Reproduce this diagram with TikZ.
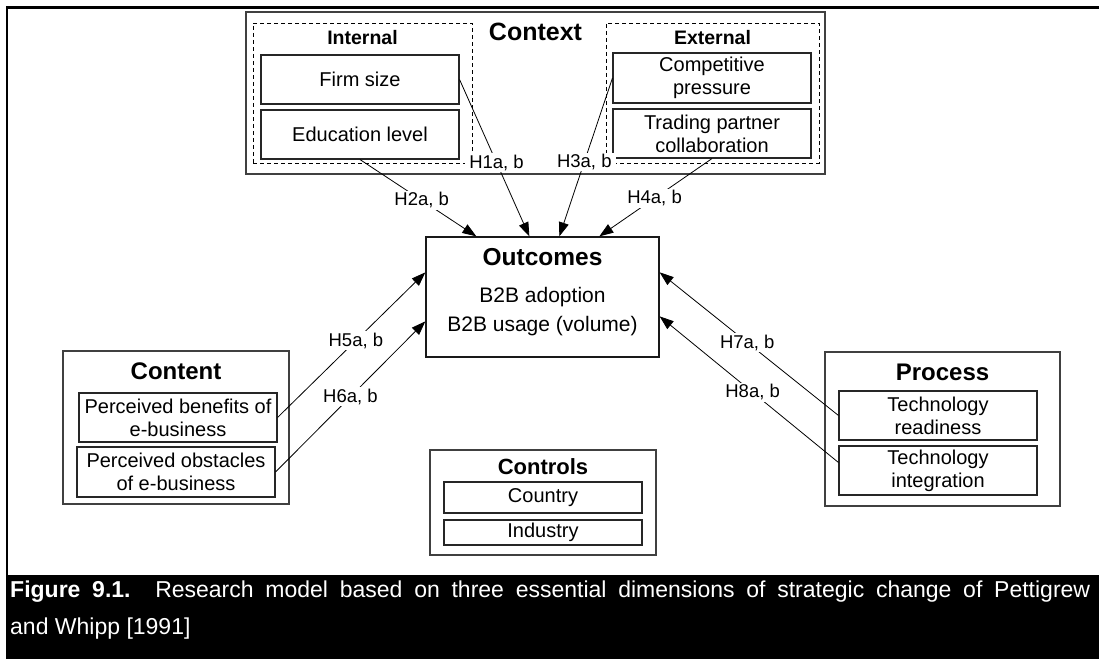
\documentclass[tikz,border=0pt]{standalone}
\usepackage{fontspec}
\setmainfont{Liberation Sans}
\usetikzlibrary{arrows.meta}

\tikzset{
  grp/.style={draw=black!75, line width=1.4pt, fill=white, inner sep=0pt},
  dashbox/.style={draw=black, line width=0.9pt, dash pattern=on 4pt off 3pt, inner sep=0pt},
  item/.style={draw=black!85, line width=1.1pt, fill=white, inner sep=0pt, align=center,
    font=\fontsize{20}{23}\selectfont},
  ttl/.style={inner sep=0pt, font=\bfseries\fontsize{24}{28}\selectfont},
  subttl/.style={inner sep=0pt, font=\bfseries\fontsize{19.5}{23}\selectfont},
  conn/.style={draw=black, line width=0.8pt, -{Triangle[length=14pt,width=10pt]}},
  lbl/.style={fill=white, inner sep=1.5pt, font=\fontsize{18.5}{21}\selectfont},
  captxt/.style={anchor=base west, inner sep=0pt, text=white, font=\fontsize{23}{27}\selectfont},
}

\begin{document}
\begin{tikzpicture}[x=1pt, y=-1pt]
\useasboundingbox (0,0) rectangle (1099,658);

% page frame and caption band
\draw[line width=2.6pt] (7,577) -- (7,7.5) -- (1104,7.5);
\fill[black] (5.8,575) rectangle (1105,660);

% Context group
\node[grp, minimum width=579pt, minimum height=162pt] (context) at (535.5,93) {};
\node[ttl, font=\bfseries\fontsize{25}{29}\selectfont] (contextT) at (535.5,32) {Context};
\node[dashbox, minimum width=219pt, minimum height=140pt] (internal) at (362.5,93) {};
\node[subttl] (internalT) at (362.5,38) {Internal};
\node[item, minimum width=198pt, minimum height=49pt] (firm) at (360,79.5) {Firm size};
\node[item, minimum width=198pt, minimum height=49pt] (edu) at (360,134.5) {Education level};
\node[dashbox, minimum width=213pt, minimum height=140pt] (external) at (712.5,93) {};
\node[subttl] (externalT) at (712.5,38) {External};
\node[item, minimum width=198pt, minimum height=50pt] (comp) at (712,78) {Competitive\\pressure};
\node[item, minimum width=198pt, minimum height=49pt] (trade) at (712,133.5) {Trading partner\\collaboration};

% Outcomes
\node[grp, draw=black!90, line width=1.3pt, minimum width=233pt, minimum height=120pt] (outcomes) at (542.5,297) {};
\node[ttl, font=\bfseries\fontsize{24.5}{28}\selectfont] (outcomesT) at (542.5,257) {Outcomes};
\node[inner sep=0pt, align=center, font=\fontsize{21}{29}\selectfont] (outcomesB) at (542.5,312) {B2B adoption\\B2B usage (volume)};

% Content
\node[grp, minimum width=226pt, minimum height=153pt] (content) at (176,427.5) {};
\node[ttl] (contentT) at (176,371) {Content};
\node[item, minimum width=198pt, minimum height=49pt] (benefit) at (178,417.5) {Perceived benefits of\\e-business};
\node[item, minimum width=198pt, minimum height=50pt] (obstacle) at (176,472) {Perceived obstacles\\of e-business};

% Controls
\node[grp, minimum width=226pt, minimum height=105pt] (controls) at (543,502.5) {};
\node[ttl, font=\bfseries\fontsize{22}{26}\selectfont] (controlsT) at (543,467) {Controls};
\node[item, minimum width=198pt, minimum height=31pt] (country) at (543,497.5) {Country};
\node[item, minimum width=198pt, minimum height=25pt] (industry) at (543,532.5) {Industry};

% Process
\node[grp, minimum width=235pt, minimum height=154pt] (process) at (942.5,429) {};
\node[ttl] (processT) at (942.5,372) {Process};
\node[item, minimum width=198pt, minimum height=49pt] (ready) at (938,415.5) {Technology\\readiness};
\node[item, minimum width=198pt, minimum height=49pt] (integ) at (938,470.5) {Technology\\integration};

% arrow targets on the Outcomes box
\coordinate (t1) at ([xshift=104pt]outcomes.north west);
\coordinate (t2) at ([xshift=51pt]outcomes.north west);
\coordinate (t3) at ([xshift=134pt]outcomes.north west);
\coordinate (t4) at ([xshift=174pt]outcomes.north west);
\coordinate (t5) at ([yshift=-36pt]outcomes.north west);
\coordinate (t6) at ([yshift=-85pt]outcomes.north west);
\coordinate (t7) at ([yshift=-36pt]outcomes.north east);
\coordinate (t8) at ([yshift=-80pt]outcomes.north east);
\coordinate (s8) at ([yshift=8pt]integ.west);

% hypotheses
\draw[conn] (firm.east) -- node[lbl, inner xsep=4pt, pos=0.53] {H1a, b} (t1);
\draw[conn] (edu.south) -- node[lbl, pos=0.53] {H2a, b} (t2);
\draw[conn] (comp.west) -- node[lbl, inner xsep=4pt, pos=0.53] {H3a, b} (t3);
\draw[conn] (trade.south) -- node[lbl, pos=0.51] {H4a, b} (t4);
\draw[conn] (benefit.east) -- node[lbl, pos=0.53] {H5a, b} (t5);
\draw[conn] (obstacle.east) -- node[lbl, pos=0.50] {H6a, b} (t6);
\draw[conn] (ready.west) -- node[lbl, pos=0.51] {H7a, b} (t7);
\draw[conn] (s8) -- node[lbl, pos=0.48] {H8a, b} (t8);

% caption
\node[captxt] (cap1) at (10,597)
  {\makebox[1080pt][s]{\textbf{Figure 9.1.} Research model based on three essential dimensions of strategic change of Pettigrew}};
\node[captxt] (cap2) at (10,634) {and Whipp [1991]};
\end{tikzpicture}
\end{document}
